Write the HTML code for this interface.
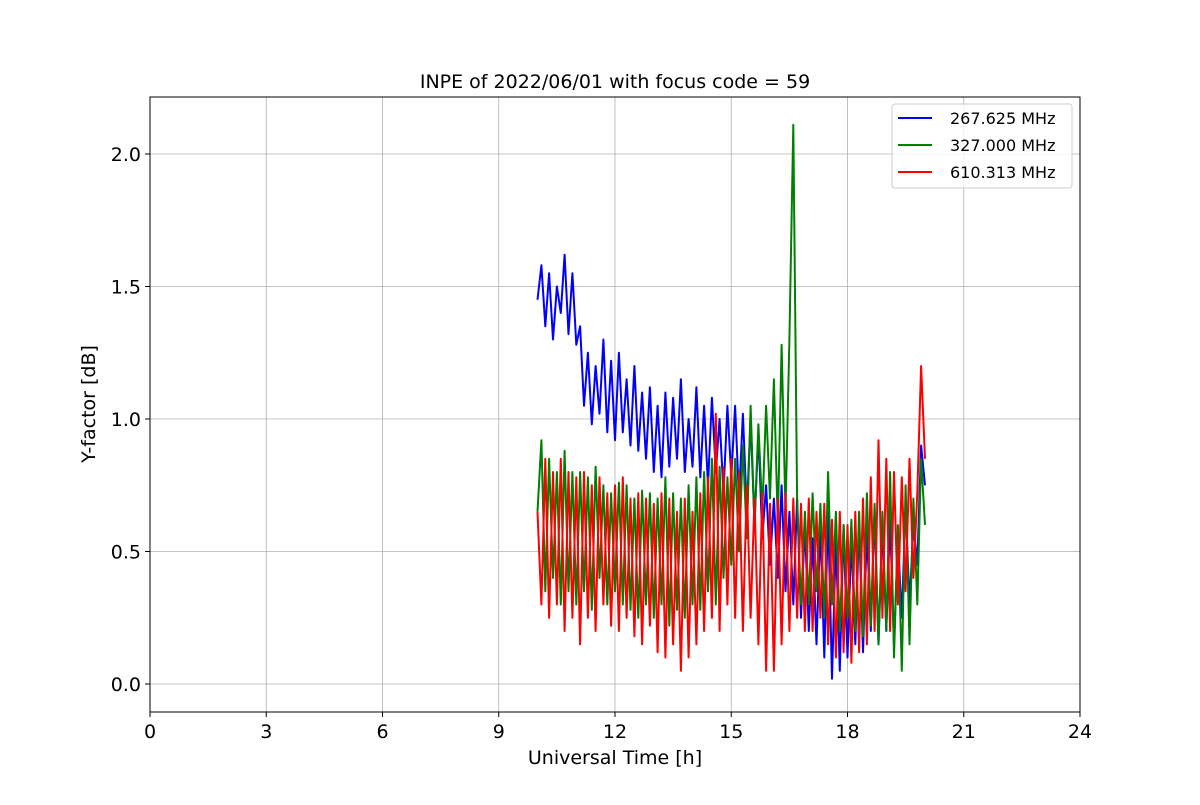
<!DOCTYPE html>
<html><head><meta charset="utf-8"><style>
body{margin:0;background:#fff;}
svg text{font-family:"DejaVu Sans","Liberation Sans",sans-serif;}
</style></head><body>
<svg id="chart" width="1200" height="800">
<rect width="1200" height="800" fill="#fff"/>
<g id="grid"></g>
<g id="series"></g>
<rect x="150" y="97" width="930" height="615" fill="none" stroke="#000" stroke-width="1"/>
<g id="ticks"></g>
<text x="615" y="88" text-anchor="middle" font-size="19">INPE of 2022/06/01 with focus code = 59</text>
<text x="615" y="764" text-anchor="middle" font-size="19">Universal Time [h]</text>
<text transform="translate(95,404) rotate(-90)" text-anchor="middle" font-size="19">Y-factor [dB]</text>
<g id="legend">
<rect x="892" y="104" width="180" height="84" rx="3" fill="#fff" fill-opacity="0.8" stroke="#ccc"/>
</g>
</svg>
<script>
const times=[];for(let i=0;i<=100;i++)times.push(10+i*0.1);
const blueVals=[1.45,1.58,1.35,1.55,1.30,1.50,1.40,1.62,1.32,1.55,
1.28,1.35,1.05,1.25,0.98,1.20,1.02,1.30,0.95,1.22,
0.92,1.25,0.95,1.15,0.90,1.20,0.88,1.10,0.85,1.12,
0.80,1.05,0.78,1.10,0.82,1.08,0.85,1.15,0.80,1.00,
0.82,1.12,0.78,1.05,0.75,1.08,0.80,1.00,0.72,1.05,
0.78,1.05,0.70,1.02,0.65,1.00,0.60,0.95,0.55,0.75,
0.45,0.70,0.40,0.75,0.35,0.65,0.30,0.70,0.25,0.60,
0.20,0.55,0.15,0.60,0.10,0.65,0.02,0.55,0.05,0.60,
0.10,0.55,0.15,0.60,0.12,0.58,0.20,0.65,0.15,0.60,
0.20,0.62,0.15,0.55,0.25,0.68,0.30,0.60,0.45,0.90,0.75];
const greenVals=[0.65,0.92,0.35,0.85,0.40,0.80,0.30,0.88,0.35,0.80,
0.30,0.80,0.35,0.78,0.28,0.82,0.40,0.75,0.30,0.72,
0.35,0.76,0.30,0.75,0.28,0.70,0.25,0.73,0.30,0.72,
0.25,0.70,0.30,0.78,0.22,0.72,0.28,0.70,0.25,0.75,
0.30,0.78,0.28,0.80,0.35,0.85,0.30,0.82,0.40,0.78,
0.45,0.85,0.50,0.90,0.55,1.05,0.60,0.98,0.65,1.05,
0.70,1.15,0.60,1.28,0.65,1.30,2.11,0.70,0.30,0.65,
0.30,0.72,0.35,0.68,0.25,0.80,0.30,0.65,0.20,0.60,
0.25,0.62,0.20,0.65,0.18,0.72,0.22,0.68,0.15,0.65,
0.20,0.80,0.10,0.60,0.05,0.75,0.15,0.70,0.30,0.85,0.60];
const redVals=[0.65,0.30,0.85,0.25,0.80,0.30,0.85,0.20,0.80,0.25,
0.78,0.15,0.80,0.25,0.75,0.20,0.78,0.30,0.72,0.22,
0.75,0.20,0.78,0.25,0.70,0.18,0.72,0.15,0.70,0.22,
0.68,0.12,0.72,0.10,0.70,0.15,0.65,0.05,0.70,0.10,
0.65,0.15,0.72,0.20,0.78,0.25,1.02,0.20,0.82,0.30,
0.85,0.25,0.80,0.20,0.75,0.25,0.70,0.15,0.72,0.05,
0.68,0.05,0.70,0.15,0.72,0.20,0.70,0.25,0.68,0.20,
0.70,0.20,0.65,0.25,0.68,0.15,0.62,0.10,0.65,0.12,
0.60,0.08,0.65,0.12,0.70,0.15,0.78,0.20,0.92,0.25,
0.85,0.20,0.80,0.30,0.78,0.35,0.85,0.40,0.72,1.20,0.85];
const xTicks=[0,3,6,9,12,15,18,21,24];
const yTicks=[0,0.5,1.0,1.5,2.0];
const seriesNames=["267.625 MHz","327.000 MHz","610.313 MHz"];
const seriesColors=["#0000ff","#008000","#ff0000"];
const X=t=>150+t*(930/24);
const Y=v=>684-v*265;
const NS="http://www.w3.org/2000/svg";
function mk(tag,attrs,parent){const e=document.createElementNS(NS,tag);for(const k in attrs)e.setAttribute(k,attrs[k]);parent.appendChild(e);return e;}
const grid=document.getElementById('grid'),ticks=document.getElementById('ticks');
xTicks.forEach(t=>{
 const g=mk('line',{x1:X(t),x2:X(t),y1:97,y2:712,stroke:'#b0b0b0','stroke-width':0.8},grid);
 
 
 mk('line',{x1:X(t),x2:X(t),y1:712,y2:717,stroke:'#000'},ticks);
 const l=mk('text',{x:X(t),y:738,'text-anchor':'middle','font-size':19},ticks);
 l.textContent=t;
 
 
});
yTicks.forEach(v=>{
 const g=mk('line',{x1:150,x2:1080,y1:Y(v),y2:Y(v),stroke:'#b0b0b0','stroke-width':0.8},grid);
 
 
 mk('line',{x1:145,x2:150,y1:Y(v),y2:Y(v),stroke:'#000'},ticks);
 const l=mk('text',{x:141,y:Y(v)+7,'text-anchor':'end','font-size':19},ticks);
 l.textContent=v.toFixed(1);
 
 
});
const ser=document.getElementById('series');
[blueVals,greenVals,redVals].forEach((vals,i)=>{
 const d=vals.map((v,j)=>(j?'L':'M')+X(times[j]).toFixed(1)+','+Y(v).toFixed(1)).join('');
 const p=mk('path',{d:d,fill:'none',stroke:seriesColors[i],'stroke-width':2,'stroke-linejoin':'round'},ser);
 
 
});
const lg=document.getElementById('legend');
seriesNames.forEach((n,i)=>{
 const y=118+i*27;
 mk('line',{x1:898,x2:932,y1:y,y2:y,stroke:seriesColors[i],'stroke-width':2},lg);
 const t=mk('text',{x:950,y:y+6,'font-size':16},lg);
 t.textContent=n;
 
 
});
</script>
</body></html>
